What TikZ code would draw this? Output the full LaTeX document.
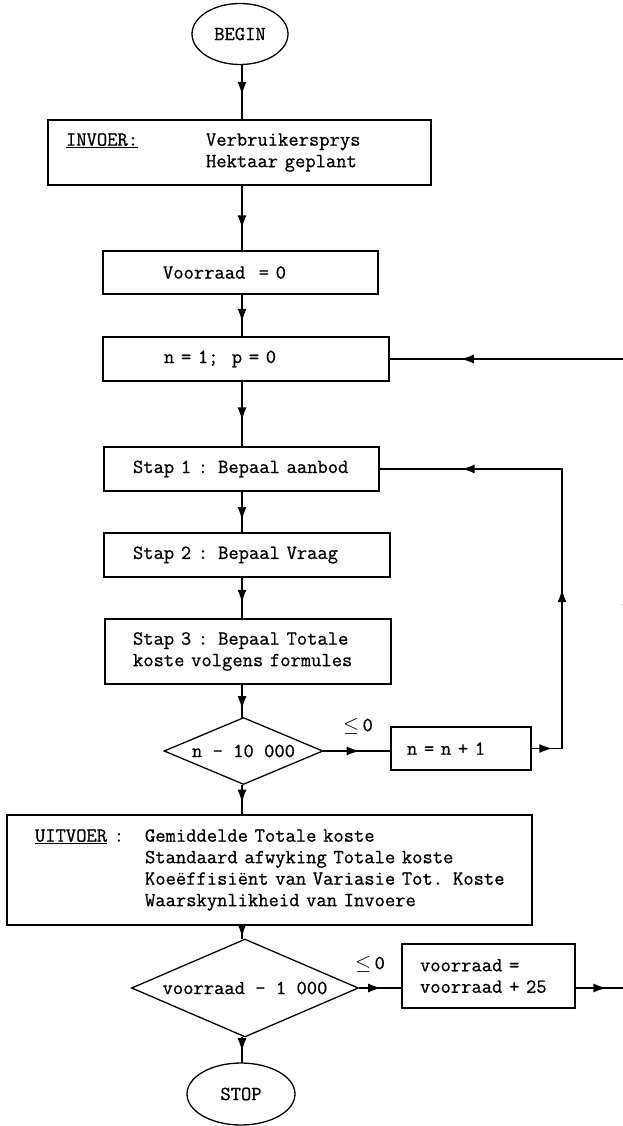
\documentclass[tikz,border=0pt]{standalone}
\usepackage{fontspec}
\setmonofont{Latin Modern Mono}[FakeBold=0.8]
\usetikzlibrary{shapes.geometric,arrows.meta,decorations.markings}
\begin{document}
\begin{tikzpicture}[x=1pt,y=-1pt,
  every node/.style={font=\ttfamily\fontsize{20pt}{21.5pt}\selectfont},
  box/.style={draw, line width=1.3pt, inner xsep=0pt, inner ysep=0pt, align=left},
  term/.style={draw, ellipse, line width=1.3pt, inner sep=0pt},
  dec/.style={draw, diamond, line width=1.3pt, inner sep=0pt},
  conn/.style={line width=1.3pt, line cap=rect},
  midarrow/.style={postaction={decorate,decoration={markings,mark=at position #1 with {\arrow{Latex[length=13pt,width=9pt]}}}}},
]
\useasboundingbox (0,0) rectangle (623,1126);

% nodes
\node[term, minimum width=96pt, minimum height=61pt] (begin) at (240,34) {BEGIN};
\node[box, text width=383pt, minimum height=65pt] (invoer) at (239.5,152.5)
  {\hspace*{18pt}\makebox[140pt][l]{\underline{INVOER:}}Verbruikersprys\\\hspace*{158pt}Hektaar geplant};
\node[box, text width=275pt, minimum height=43pt] (vr0) at (240.5,272.5) {\hspace*{60pt}Voorraad\ \ = 0};
\node[box, text width=286pt, minimum height=44pt] (n1) at (246,359) {\hspace*{61pt}n = 1;\ \ p = 0};
\node[box, text width=275pt, minimum height=44pt] (s1) at (241.5,469) {\hspace*{29pt}Stap 1 : Bepaal aanbod};
\node[box, text width=286pt, minimum height=44pt] (s2) at (247,555) {\hspace*{29pt}Stap 2 : Bepaal Vraag};
\node[box, text width=286pt, minimum height=65pt] (s3) at (248,651.5)
  {\hspace*{28pt}Stap 3 : Bepaal Totale\\\hspace*{28pt}koste volgens formules};
\node[dec, minimum width=159pt, minimum height=67pt, aspect=2.37] (d1) at (243.5,751) {n - 10 000};
\node[box, text width=140pt, minimum height=43pt] (nn) at (461,748.5) {\hspace*{16pt}n = n + 1};
\node[box, text width=525pt, minimum height=110pt] (uit) at (269.5,870)
  {\hspace*{28pt}\makebox[110pt][l]{\underline{UITVOER} :}Gemiddelde Totale koste\\
   \hspace*{138pt}Standaard afwyking Totale koste\\
   \hspace*{138pt}Koeëffisiënt van Variasie Tot. Koste\\
   \hspace*{138pt}Waarskynlikheid van Invoere};
\node[dec, minimum width=227pt, minimum height=98pt, aspect=2.32] (d2) at (245,988) {voorraad - 1 000};
\node[box, text width=173pt, minimum height=64pt] (vb) at (488.5,976)
  {\hspace*{18pt}voorraad =\\\hspace*{18pt}voorraad + 25};
\node[term, minimum width=108pt, minimum height=62pt] (stop) at (241,1094) {STOP};
\node (le1) at (358,726) {$\leq$\,0};
\node (le2) at (370,964) {$\leq$\,0};

% helper coordinates
\coordinate (axis) at (242,0);
\coordinate (lpx) at (562,0);
\coordinate (outx) at (627,0);

% main flow
\draw[conn, midarrow=0.55] (begin.south -| axis) -- (invoer.north -| axis);
\draw[conn, midarrow=0.66] (invoer.south -| axis) -- (vr0.north -| axis);
\draw[conn, midarrow=0.65] (vr0.south -| axis) -- (n1.north -| axis);
\draw[conn, midarrow=0.6] (n1.south -| axis) -- (s1.north -| axis);
\draw[conn, midarrow=0.7] (s1.south -| axis) -- (s2.north -| axis);
\draw[conn, midarrow=0.62] (s2.south -| axis) -- (s3.north -| axis);
\draw[conn, midarrow=0.76] (s3.south -| axis) -- (d1.north -| axis);
\draw[conn, midarrow=0.6] (d1.south -| axis) -- (uit.north -| axis);
\draw[conn, midarrow=0.9] (uit.south -| axis) -- (d2.north -| axis);
\draw[conn, midarrow=0.55] (d2.south -| axis) -- (stop.north -| axis);

% inner loop
\draw[conn, midarrow=0.54] (d1.east) -- (d1.east -| nn.west);
\draw[conn, midarrow=0.68] (nn.east) -- (nn.east -| lpx);
\draw[conn, midarrow=0.57] (nn.east -| lpx) -- (s1.east -| lpx);
\draw[conn, midarrow=0.55] (s1.east -| lpx) -- (s1.east);

% outer loop
\draw[conn, midarrow=0.52] (d2.east) -- (d2.east -| vb.west);
\draw[conn, midarrow=0.6] (d2.east -| vb.east) -- (d2.east -| outx);
\draw[conn, midarrow=0.63] (d2.east -| outx) -- (n1.east -| outx);
\draw[conn, midarrow=0.70] (n1.east -| outx) -- (n1.east);
\end{tikzpicture}
\end{document}
